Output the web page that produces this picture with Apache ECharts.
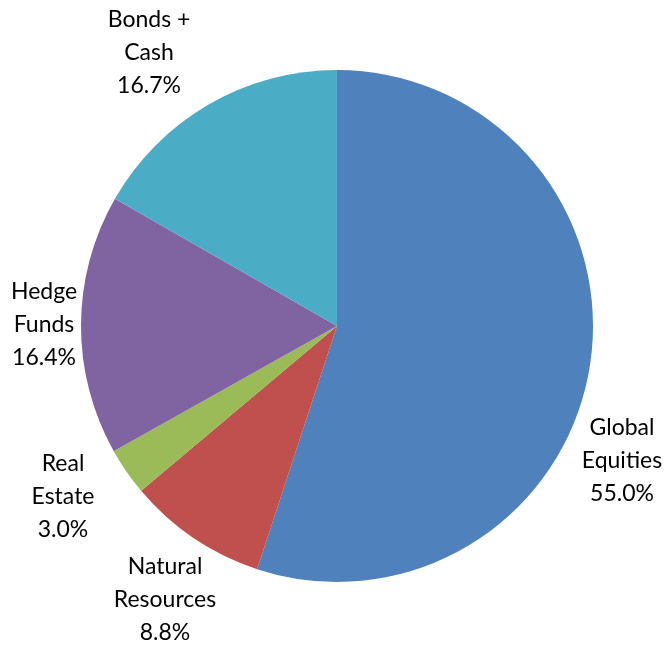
<!DOCTYPE html>
<html>
<head>
<meta charset="utf-8">
<script src="https://cdn.jsdelivr.net/npm/echarts@6/dist/echarts.min.js"></script>
<style>html,body{margin:0;padding:0;background:#fff}#c{width:666px;height:646px}</style>
</head>
<body>
<div id="c"></div>
<script>
const categories = ['Global\nEquities', 'Natural\nResources', 'Real\nEstate', 'Hedge\nFunds', 'Bonds +\nCash'];
const values = [55.0, 8.8, 3.0, 16.4, 16.7];
const colors = ['#4F81BD', '#C0504D', '#9BBB59', '#8064A2', '#4BACC6'];
// label centre positions (px)
const labelPos = [[622, 461], [165, 600], [63, 497], [44, 325], [149, 53]];

const chart = echarts.init(document.getElementById('c'), null, {renderer: 'canvas'});
chart.setOption({
  animation: false,
  backgroundColor: '#ffffff',
  series: [{
    type: 'pie',
    center: [337, 326],
    radius: 256,
    startAngle: 90,
    clockwise: true,
    data: categories.map((n, i) => ({name: n, value: values[i], itemStyle: {color: colors[i]}})),
    itemStyle: {borderWidth: 0},
    label: {
      show: true,
      position: 'inside',
      formatter: p => p.name + '\n' + p.value.toFixed(1) + '%',
      fontFamily: 'Lato, "Open Sans", sans-serif',
      fontSize: 23,
      lineHeight: 33,
      color: '#000',
      align: 'center',
      overflow: 'none'
    },
    labelLine: {show: false},
    labelLayout: p => ({
      x: labelPos[p.dataIndex][0],
      y: labelPos[p.dataIndex][1],
      align: 'center',
      verticalAlign: 'middle'
    })
  }]
});
</script>
</body>
</html>
